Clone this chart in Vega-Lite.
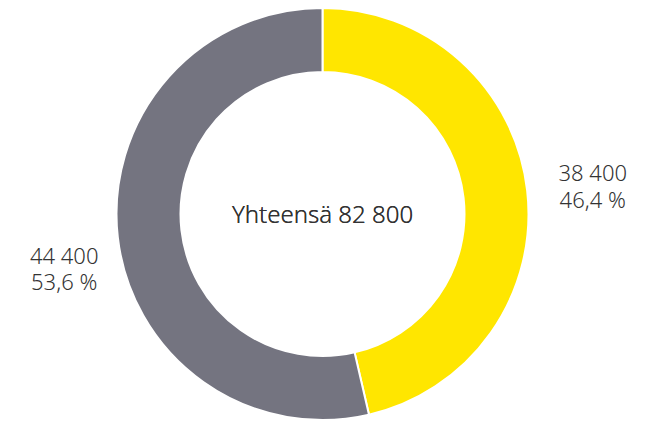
{
  "$schema": "https://vega.github.io/schema/vega-lite/v6.json",
  "width": 645,
  "height": 428,
  "padding": 0,
  "autosize": {"type": "none"},
  "background": "white",
  "config": {"view": {"stroke": null}},
  "data": {
    "values": [
      {"category": "A", "value": 38400, "order": 1, "labelA": "38 400\n46,4 %", "labelB": ""},
      {"category": "B", "value": 44400, "order": 2, "labelA": "", "labelB": "44 400\n53,6 %"}
    ]
  },
  "encoding": {
    "theta": {"field": "value", "type": "quantitative", "stack": true},
    "order": {"field": "order", "type": "quantitative"}
  },
  "layer": [
    {
      "mark": {"type": "arc", "outerRadius": 206, "innerRadius": 142, "stroke": "white", "strokeWidth": 2},
      "encoding": {
        "color": {"field": "category", "type": "nominal", "scale": {"domain": ["A", "B"], "range": ["#FFE600", "#747480"]}, "legend": null}
      }
    },
    {
      "mark": {"type": "text", "radius": 272, "dy": -9, "fontSize": 22, "font": "Noto Sans", "fontWeight": 300, "color": "#333333", "lineBreak": "\n", "lineHeight": 26.5, "align": "center", "baseline": "middle"},
      "encoding": {"text": {"field": "labelA"}}
    },
    {
      "mark": {"type": "text", "radius": 260, "dy": 13, "fontSize": 22, "font": "Noto Sans", "fontWeight": 300, "color": "#333333", "lineBreak": "\n", "lineHeight": 26.5, "align": "center", "baseline": "middle"},
      "encoding": {"text": {"field": "labelB"}}
    },
    {
      "mark": {"type": "text", "dy": 2, "fontSize": 24, "font": "Noto Sans", "fontWeight": 300, "color": "#333333", "align": "center", "baseline": "middle", "text": "Yhteensä 82 800"},
      "encoding": {}
    }
  ]
}
